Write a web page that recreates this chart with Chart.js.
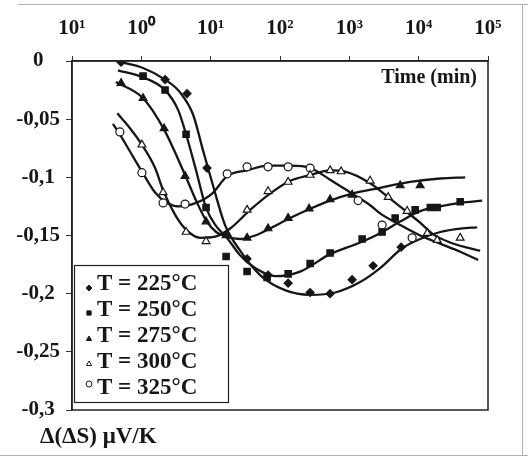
<!DOCTYPE html>
<html>
<head>
<meta charset="utf-8">
<script src="https://cdn.jsdelivr.net/npm/chart.js@4.4.0/dist/chart.umd.min.js"></script>
<style>
  html, body { margin: 0; padding: 0; background: #fff; }
  #wrap { position: relative; width: 528px; height: 465px; }
</style>
</head>
<body>
<div id="wrap"><canvas id="grafico" width="528" height="465"></canvas></div>
<script>
// === SERIES NAMES ===
const labels = ['T = 225°C', 'T = 250°C', 'T = 275°C', 'T = 300°C', 'T = 325°C'];

// === AXIS TICKS ===
const xTicks = [0.1, 1, 10, 100, 1000, 10000, 100000];
const xTickLabels = ['10¹', '10⁰', '10¹', '10²', '10³', '10⁴', '10⁵'];
const yTicks = [0, -0.05, -0.1, -0.15, -0.2, -0.25, -0.3];

// === MEASURED POINTS (time in min, Δ(ΔS) in µV/K) ===
const t225 = [0.51, 2.2, 4.56, 8.87, 33.5, 67.3, 131, 272, 528, 1097, 2205, 5590];
const v225 = [-0.001, -0.016, -0.028, -0.092, -0.170, -0.184, -0.191, -0.199, -0.200, -0.188, -0.176, -0.160];

const t250 = [1.06, 2.2, 4.42, 8.58, 16.7, 33.5, 65.2, 131, 272, 528, 1530, 2970, 4580, 8900, 14700, 18500, 39700];
const v250 = [-0.013, -0.025, -0.063, -0.126, -0.168, -0.181, -0.186, -0.183, -0.174, -0.165, -0.153, -0.147, -0.135, -0.128, -0.126, -0.126, -0.121];

const t275 = [0.51, 1.06, 2.13, 4.27, 8.58, 16.7, 33.5, 67.3, 131, 263, 528, 1097, 5410, 10500];
const v275 = [-0.019, -0.032, -0.058, -0.099, -0.138, -0.150, -0.152, -0.144, -0.135, -0.127, -0.119, -0.115, -0.107, -0.107];

const t300 = [1.02, 2.06, 4.42, 8.58, 33.5, 67.3, 131, 272, 528, 762, 1995, 3630, 6820, 13300, 18500, 39700];
const v300 = [-0.072, -0.113, -0.147, -0.155, -0.128, -0.112, -0.104, -0.098, -0.094, -0.095, -0.103, -0.117, -0.129, -0.148, -0.154, -0.152];

const t325 = [0.49, 1.02, 2.06, 4.27, 17.3, 33.5, 67.3, 131, 272, 1339, 2970, 8050];
const v325 = [-0.061, -0.096, -0.122, -0.123, -0.097, -0.091, -0.091, -0.091, -0.092, -0.120, -0.141, -0.152];

// === FITTED CURVES ===
const ct225 = [0.51, 1.06, 2.2, 3.62, 5.57, 7.77, 10.8, 16.1, 26.6, 51.7, 118, 272, 624, 1432, 2780, 5780, 10500, 20400, 39700, 69900];
const cv225 = [-0.001, -0.006, -0.016, -0.027, -0.046, -0.077, -0.107, -0.141, -0.163, -0.184, -0.197, -0.201, -0.199, -0.190, -0.178, -0.161, -0.153, -0.147, -0.144, -0.143];

const ct250 = [0.46, 1.06, 2.2, 3.39, 4.42, 6.16, 8.58, 12.0, 16.7, 26.6, 43.8, 85, 195, 528, 1432, 2780, 5410, 10500, 20400, 39700, 82400];
const cv250 = [-0.008, -0.014, -0.025, -0.042, -0.063, -0.094, -0.126, -0.142, -0.151, -0.167, -0.178, -0.185, -0.181, -0.166, -0.156, -0.148, -0.138, -0.129, -0.125, -0.122, -0.120];

const ct275 = [0.43, 1.06, 2.13, 4.27, 6.16, 8.58, 12.0, 16.7, 26.6, 43.8, 72, 140, 272, 528, 1097, 2780, 7540, 20400, 46900];
const cv275 = [-0.018, -0.032, -0.059, -0.098, -0.120, -0.137, -0.147, -0.151, -0.153, -0.150, -0.144, -0.135, -0.127, -0.120, -0.114, -0.109, -0.104, -0.101, -0.100];

const ct300 = [0.45, 0.69, 1.02, 1.58, 2.06, 3.06, 4.42, 7.03, 11.6, 19.1, 37.1, 72, 140, 272, 528, 869, 1995, 3630, 6820, 10500, 16200, 28500, 46900, 77100];
const cv300 = [-0.045, -0.058, -0.072, -0.092, -0.111, -0.132, -0.145, -0.152, -0.151, -0.144, -0.128, -0.114, -0.103, -0.098, -0.094, -0.095, -0.105, -0.117, -0.130, -0.139, -0.149, -0.156, -0.160, -0.163];

const ct325 = [0.39, 0.49, 0.69, 1.02, 1.58, 2.35, 3.62, 6.16, 10.5, 17.3, 33.5, 67.3, 140, 272, 528, 1097, 1995, 2780, 5410, 10500, 20400, 39700, 72200];
const cv325 = [-0.054, -0.063, -0.078, -0.095, -0.113, -0.122, -0.125, -0.122, -0.114, -0.099, -0.094, -0.090, -0.090, -0.092, -0.102, -0.114, -0.124, -0.131, -0.141, -0.150, -0.157, -0.164, -0.171];

const serif = "'Liberation Serif', 'Times New Roman', serif";
const ink = '#161616';

function pts(ts, vs) {
  return ts.map((t, i) => ({ x: t, y: vs[i] }));
}

const markerStyles = [
  { pointStyle: 'rectRot', radius: 4, bg: ink },
  { pointStyle: 'rect', radius: 4.5, bg: ink },
  { pointStyle: 'triangle', radius: 4.5, bg: ink },
  { pointStyle: 'triangle', radius: 4.5, bg: '#fff' },
  { pointStyle: 'circle', radius: 4, bg: '#fff' }
];

const pontos = [pts(t225, v225), pts(t250, v250), pts(t275, v275), pts(t300, v300), pts(t325, v325)];
const curvas = [pts(ct225, cv225), pts(ct250, cv250), pts(ct275, cv275), pts(ct300, cv300), pts(ct325, cv325)];

const datasets = [];
curvas.forEach((c, i) => {
  datasets.push({
    type: 'line',
    label: labels[i] + ' fit',
    data: c,
    borderColor: ink,
    borderWidth: 2.3,
    pointRadius: 0,
    cubicInterpolationMode: 'monotone',
    fill: false,
    order: 1
  });
});
pontos.forEach((p, i) => {
  const s = markerStyles[i];
  datasets.push({
    type: 'scatter',
    label: labels[i],
    isMarker: true,
    data: p,
    pointStyle: s.pointStyle,
    pointRadius: s.radius,
    pointBackgroundColor: s.bg,
    pointBorderColor: ink,
    pointBorderWidth: 1.2,
    showLine: false,
    order: 0
  });
});

// === EXTRA DRAWING: frame, axis titles, legend box ===
const extras = {
  id: 'extras',
  afterDraw(chart) {
    const ctx = chart.ctx;
    const a = chart.chartArea;
    ctx.save();

    // faint scan frame
    ctx.strokeStyle = '#b0b0b0';
    ctx.lineWidth = 1;
    ctx.beginPath();
    ctx.moveTo(18, 4.5); ctx.lineTo(528, 4.5);
    ctx.moveTo(0, 455.5); ctx.lineTo(528, 455.5);
    ctx.moveTo(522.5, 4); ctx.lineTo(522.5, 456);
    ctx.stroke();

    // plot box
    ctx.strokeStyle = '#222';
    ctx.lineWidth = 1.5;
    ctx.strokeRect(a.left, a.top, a.right - a.left, a.bottom - a.top);

    ctx.fillStyle = ink;
    ctx.textBaseline = 'middle';
    ctx.font = 'bold 20px ' + serif;
    ctx.textAlign = 'right';
    ctx.fillText('Time (min)', 477, 78);

    ctx.textAlign = 'left';
    ctx.font = 'bold 23px ' + serif;
    ctx.fillText('Δ(ΔS) μV/K', 40, 437);

    // legend
    ctx.strokeStyle = '#222';
    ctx.lineWidth = 1.2;
    ctx.strokeRect(74.5, 265.5, 154, 137);
    const offs = [5, 4, 4, 3, -3];
    let k = 0;
    chart.data.datasets.forEach(ds => {
      if (!ds.isMarker) return;
      const y = 283 + k * 26;
      ctx.fillStyle = ds.pointBackgroundColor;
      ctx.strokeStyle = ink;
      ctx.lineWidth = 1;
      Chart.helpers.drawPoint(ctx, {
        pointStyle: ds.pointStyle, radius: 3, rotation: 0, borderWidth: 1
      }, 89, y + offs[k]);
      ctx.fillStyle = ink;
      ctx.font = 'bold 23px ' + serif;
      ctx.textAlign = 'left';
      ctx.fillText(ds.label, 97, y + 1);
      k++;
    });
    ctx.restore();
  }
};

const ctx = document.getElementById('grafico');

const grafico = new Chart(ctx, {
  data: { datasets: datasets },
  options: {
    responsive: false,
    animation: false,
    devicePixelRatio: 1,
    layout: { padding: { left: 0, top: 0, right: 40, bottom: 55 } },
    plugins: {
      legend: { display: false },
      tooltip: { enabled: false }
    },
    scales: {
      x: {
        type: 'logarithmic',
        position: 'top',
        min: 0.1,
        max: 100000,
        afterBuildTicks: s => { s.ticks = xTicks.map(v => ({ value: v })); },
        afterFit: s => { s.height = 61; },
        ticks: {
          autoSkip: false,
          maxRotation: 0,
          padding: 15,
          color: ink,
          font: { family: serif, size: 21, weight: 'bold' },
          callback: (v, i) => xTickLabels[i]
        },
        grid: { drawOnChartArea: false, tickLength: 5, color: '#333' },
        border: { color: '#222', width: 1.5 }
      },
      y: {
        type: 'linear',
        min: -0.3,
        max: 0,
        afterBuildTicks: s => { s.ticks = yTicks.map(v => ({ value: v })); },
        afterFit: s => { s.width = 72; },
        ticks: {
          padding: 6,
          crossAlign: 'center',
          color: ink,
          font: { family: serif, size: 21, weight: 'bold' },
          callback: v => v === 0 ? '0' : String(+v.toFixed(2)).replace('.', ',')
        },
        grid: { drawOnChartArea: false, tickLength: 6, color: '#333' },
        border: { color: '#222', width: 1.5 }
      }
    }
  },
  plugins: [extras]
});
</script>
</body>
</html>
